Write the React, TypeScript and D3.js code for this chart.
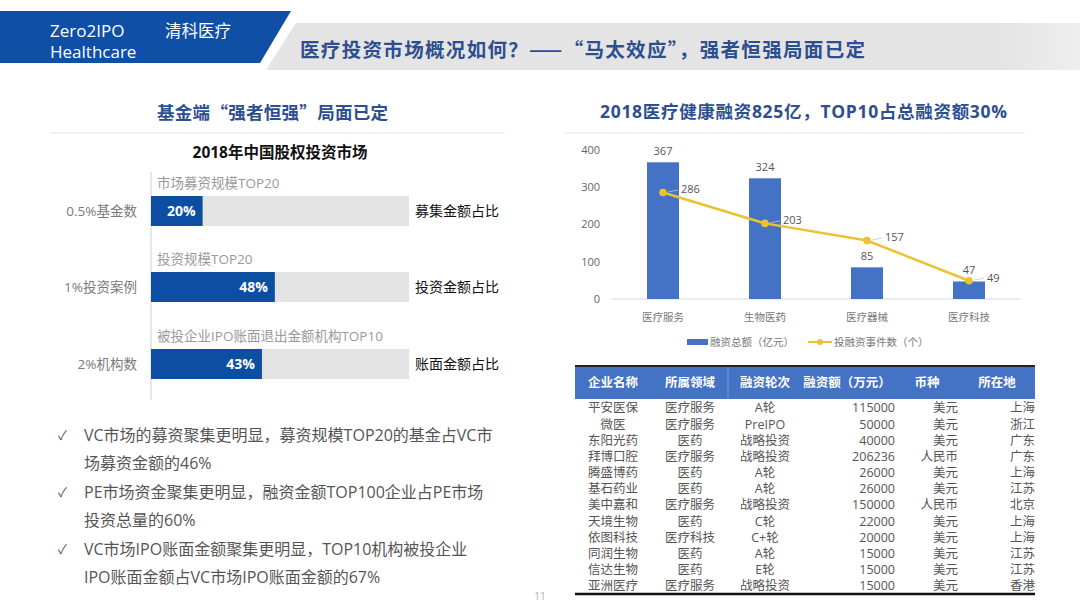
import React from "react";
import * as d3 from "d3";

// ---------- data ----------
const leftCats = ["0.5%基金数", "1%投资案例", "2%机构数"];
const leftTopLabels = ["市场募资规模TOP20", "投资规模TOP20", "被投企业IPO账面退出金额机构TOP10"];
const leftValues = [20, 48, 43];
const leftRightLabels = ["募集金额占比", "投资金额占比", "账面金额占比"];

const bullets = [
  ["VC市场的募资聚集更明显，募资规模TOP20的基金占VC市", "场募资金额的46%"],
  ["PE市场资金聚集更明显，融资金额TOP100企业占PE市场", "投资总量的60%"],
  ["VC市场IPO账面金额聚集更明显，TOP10机构被投企业", "IPO账面金额占VC市场IPO账面金额的67%"],
];

const sectors = ["医疗服务", "生物医药", "医疗器械", "医疗科技"];
const financing = [367, 324, 85, 47];
const events = [286, 203, 157, 49];
const yTicks = [0, 100, 200, 300, 400];

const tableHeader = ["企业名称", "所属领域", "融资轮次", "融资额（万元）", "币种", "所在地"];
const tableRows: string[][] = [
  ["平安医保", "医疗服务", "A轮", "115000", "美元", "上海"],
  ["微医", "医疗服务", "PreIPO", "50000", "美元", "浙江"],
  ["东阳光药", "医药", "战略投资", "40000", "美元", "广东"],
  ["拜博口腔", "医疗服务", "战略投资", "206236", "人民币", "广东"],
  ["腾盛博药", "医药", "A轮", "26000", "美元", "上海"],
  ["基石药业", "医药", "A轮", "26000", "美元", "江苏"],
  ["美中嘉和", "医疗服务", "战略投资", "150000", "人民币", "北京"],
  ["天境生物", "医药", "C轮", "22000", "美元", "上海"],
  ["依图科技", "医疗科技", "C+轮", "20000", "美元", "上海"],
  ["同润生物", "医药", "A轮", "15000", "美元", "江苏"],
  ["信达生物", "医药", "E轮", "15000", "美元", "江苏"],
  ["亚洲医疗", "医疗服务", "战略投资", "15000", "美元", "香港"],
];

const FONT = "'Open Sans', 'Noto Sans CJK SC', sans-serif";
const CJK = "'Noto Sans CJK SC', sans-serif";
const TITLE_BLUE = "#2d4f8f";

// render CJK punctuation (quotes, comma, question mark) as full-width glyphs
function FW({ text }: { text: string }) {
  const parts = text.split(/([“”，？])/);
  return (
    <>
      {parts.map((p, i) =>
        /^[“”，？]$/.test(p) ? (
          <tspan key={i} style={{ fontFeatureSettings: '"fwid" 1' }}>
            {p}
          </tspan>
        ) : (
          <tspan key={i}>{p}</tspan>
        )
      )}
    </>
  );
}

export default function App() {
  // left bar chart scales
  const lx = d3.scaleLinear().domain([0, 100]).range([151, 409]);
  const lyTop = [196, 272, 349];
  const barH = 30;

  // right combo chart scales
  const x = d3.scalePoint<string>().domain(sectors).range([612, 1020]).padding(0.5);
  const y = d3.scaleLinear().domain([0, 400]).range([299, 150]);
  const bw = 32;
  const line = d3
    .line<number>()
    .x((_, i) => x(sectors[i]) as number)
    .y((d) => y(d));

  // table
  const colX = [613, 690, 765, 895, 958, 1035];
  const colAnchor = ["middle", "middle", "middle", "end", "end", "end"];
  const headerX = [613, 690, 765, 847, 927, 997];
  const rowY = d3.scaleLinear().domain([0, 11]).range([408, 586]);

  return (
    <svg
      width={1080}
      height={608}
      style={{ position: "absolute", left: 0, top: 0, background: "#fff" }}
      fontFamily={FONT}
    >
      <defs>
        <linearGradient id="grayfade" x1="0" x2="1" y1="0" y2="0">
          <stop offset="0.9" stopColor="#e4e4e4" />
          <stop offset="1" stopColor="#eeeeee" />
        </linearGradient>
      </defs>
      {/* header */}
      <polygon points="0,11 291,11 260,63 0,63" fill="#0f4fa6" />
      <polygon points="296,23 1080,23 1080,70 266,70" fill="url(#grayfade)" />
      <text x={50} y={37} fill="#fff" fontSize={17}>Zero2IPO</text>
      <text x={50} y={58} fill="#fff" fontSize={17}>Healthcare</text>
      <text x={165} y={37} fill="#fff" fontSize={16.5}>清科医疗</text>
      <text x={300} y={57} fill={TITLE_BLUE} fontSize={19.5} fontWeight="bold" fontFamily={CJK} textLength={565} lengthAdjust="spacing">
        <FW text="医疗投资市场概况如何？——“马太效应”，强者恒强局面已定" />
      </text>

      {/* left section */}
      <text x={157} y={113} dy="0.35em" fill={TITLE_BLUE} fontSize={17.5} fontWeight="bold" fontFamily={CJK} textLength={231} lengthAdjust="spacing">
        <FW text="基金端“强者恒强”局面已定" />
      </text>
      <line x1={50} x2={505} y1={133} y2={133} stroke="#eeeeee" strokeWidth={1.5} />
      <text x={280} y={153} dy="0.35em" textAnchor="middle" fill="#111" fontSize={15.5} fontWeight="bold">
        2018年中国股权投资市场
      </text>
      <line x1={151} x2={151} y1={172} y2={400} stroke="#cfcfcf" strokeWidth={1} />
      {leftValues.map((v, i) => (
        <g key={i}>
          <text x={157} y={lyTop[i] - 13} dy="0.35em" fill="#9a9a9a" fontSize={13.5}>
            {leftTopLabels[i]}
          </text>
          <rect x={lx(0)} y={lyTop[i]} width={lx(100) - lx(0)} height={barH} fill="#e3e3e3" />
          <rect x={lx(0)} y={lyTop[i]} width={lx(v) - lx(0)} height={barH} fill="#0b4ea2" />
          <text x={lx(v) - 7} y={lyTop[i] + barH / 2} dy="0.35em" textAnchor="end" fill="#fff" fontSize={14} fontWeight="bold">
            {v}%
          </text>
          <text x={137} y={lyTop[i] + barH / 2} dy="0.35em" textAnchor="end" fill="#7a7a7a" fontSize={13.5}>
            {leftCats[i]}
          </text>
          <text x={415} y={lyTop[i] + barH / 2} dy="0.35em" fill="#111" fontSize={14}>
            {leftRightLabels[i]}
          </text>
        </g>
      ))}

      {/* bullets */}
      {bullets.map((b, i) => (
        <g key={i} fill="#555" fontSize={16}>
          <text x={58} y={435 + i * 57} dy="0.35em" fontSize={13}>✓</text>
          <text x={84} y={435 + i * 57} dy="0.35em">{b[0]}</text>
          <text x={84} y={463.5 + i * 57} dy="0.35em">{b[1]}</text>
        </g>
      ))}
      <text x={540} y={596} dy="0.35em" textAnchor="middle" fill="#b0b0b0" fontSize={10}>11</text>

      {/* right section */}
      <text x={600} y={112} dy="0.35em" fill={TITLE_BLUE} fontSize={17.5} fontWeight="bold" textLength={407} lengthAdjust="spacing">
        <FW text="2018医疗健康融资825亿，TOP10占总融资额30%" />
      </text>
      <line x1={565} x2={1025} y1={133} y2={133} stroke="#eeeeee" strokeWidth={1.5} />

      {yTicks.map((t) => (
        <text key={t} x={600} y={y(t)} dy="0.35em" textAnchor="end" fill="#666" fontSize={11}>
          {t}
        </text>
      ))}
      <line x1={612} x2={1020} y1={y(0)} y2={y(0)} stroke="#d9d9d9" strokeWidth={1} />
      {sectors.map((s, i) => {
        const cx = x(s) as number;
        return (
          <g key={s}>
            <rect x={cx - bw / 2} y={y(financing[i])} width={bw} height={y(0) - y(financing[i])} fill="#4472c4" />
            <text x={cx} y={y(financing[i]) - 11} dy="0.35em" textAnchor="middle" fill="#555" fontSize={11}>
              {financing[i]}
            </text>
            <text x={cx} y={317} dy="0.35em" textAnchor="middle" fill="#777" fontSize={10.5}>
              {s}
            </text>
          </g>
        );
      })}
      <path d={line(events) || ""} fill="none" stroke="#ecc232" strokeWidth={2.5} />
      {events.map((v, i) => {
        const cx = x(sectors[i]) as number;
        const cy = y(v);
        return (
          <g key={i}>
            <circle cx={cx} cy={cy} r={3.8} fill="#ecc232" />
            <line x1={cx + 5} y1={cy - 0.5} x2={cx + 15} y2={cy - 2.5} stroke="#c8c8c8" strokeWidth={0.8} />
            <text x={cx + 18} y={cy - 3} dy="0.35em" fill="#555" fontSize={11}>
              {v}
            </text>
          </g>
        );
      })}
      {/* legend */}
      <rect x={687} y={339} width={21} height={6} fill="#4472c4" />
      <text x={710} y={342} dy="0.35em" fill="#777" fontSize={10.5}>融资总额（亿元）</text>
      <line x1={808} x2={832} y1={342} y2={342} stroke="#ecc232" strokeWidth={2} />
      <circle cx={820} cy={342} r={3} fill="#ecc232" />
      <text x={834} y={342} dy="0.35em" fill="#777" fontSize={10.5}>投融资事件数（个）</text>

      {/* table */}
      <rect x={575} y={366} width={460} height={33} fill="#4472c4" />
      <line x1={575} x2={1035} y1={366} y2={366} stroke="#222" strokeWidth={2} />
      <line x1={728} x2={728} y1={367} y2={399} stroke="#7d9bd6" strokeWidth={1} />
      {tableHeader.map((h, i) => (
        <text key={h} x={headerX[i]} y={383} dy="0.35em" textAnchor="middle" fill="#fff" fontSize={12.5} fontWeight="bold">
          {h}
        </text>
      ))}
      {tableRows.map((r, ri) => (
        <g key={ri}>
          {r.map((c, ci) => (
            <text
              key={ci}
              x={colX[ci]}
              y={rowY(ri)}
              dy="0.35em"
              textAnchor={colAnchor[ci] as any}
              fill="#555"
              fontSize={12.5}
            >
              {c}
            </text>
          ))}
        </g>
      ))}
      <line x1={575} x2={1035} y1={594} y2={594} stroke="#111" strokeWidth={2.5} />
    </svg>
  );
}
